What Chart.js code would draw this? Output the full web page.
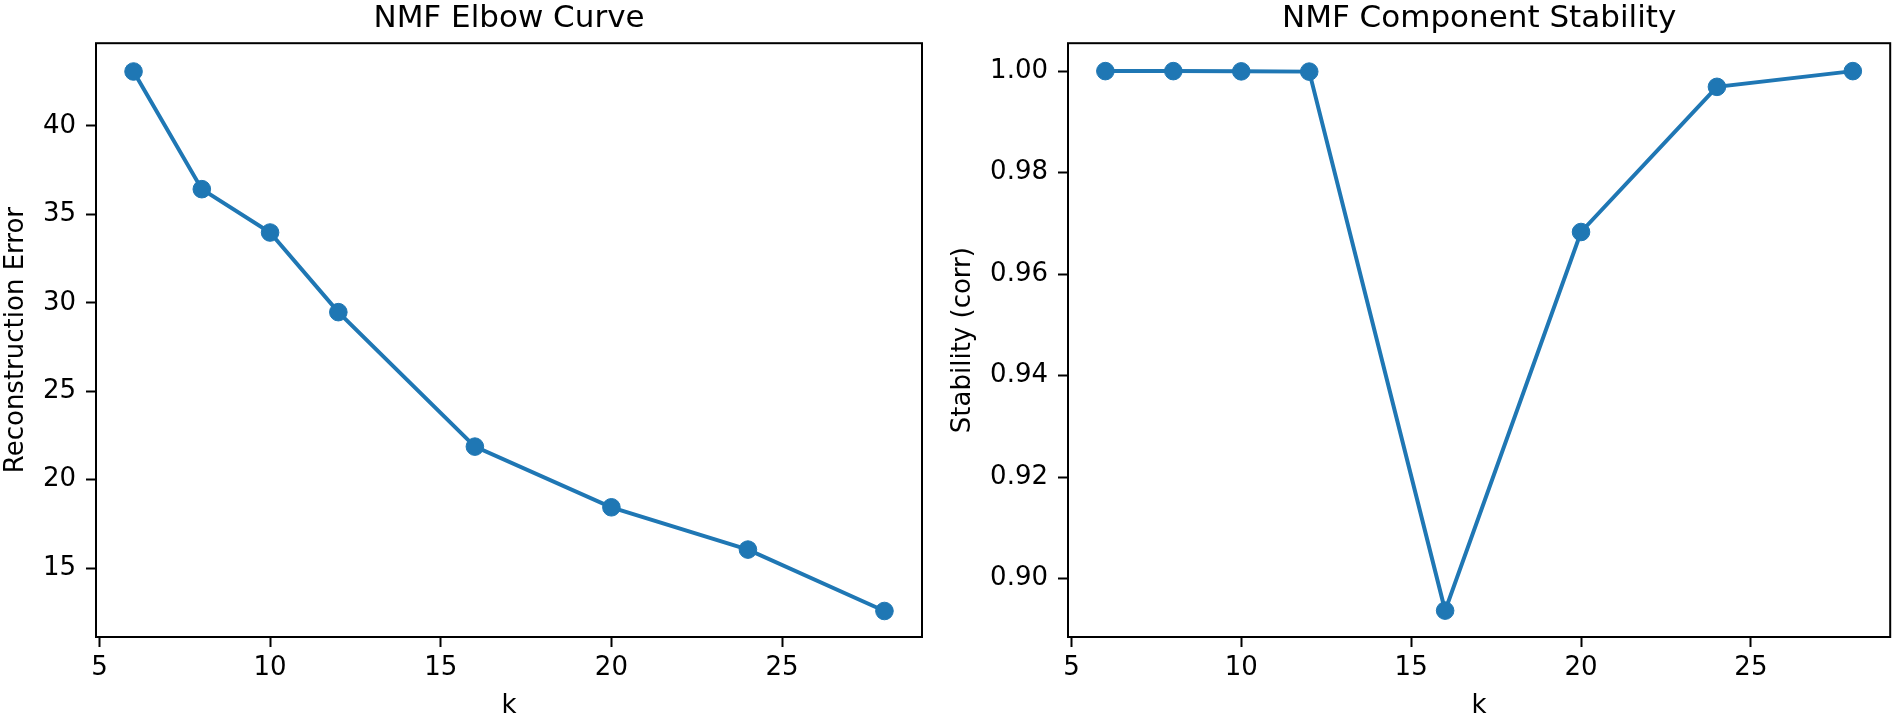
<!DOCTYPE html>
<html>
<head>
<meta charset="utf-8">
<script src="https://cdn.jsdelivr.net/npm/chart.js@4.4.1/dist/chart.umd.min.js"></script>
<style>
  html, body { margin: 0; padding: 0; background: #ffffff; }
  #wrap { position: relative; width: 1900px; height: 719px; overflow: hidden; }
  .box { position: absolute; top: 0; height: 719px; }
  #b1 { left: 0; width: 950px; }
  #b2 { left: 950px; width: 950px; }
</style>
</head>
<body>
<div id="wrap">
  <div class="box" id="b1"><canvas id="c1" width="950" height="719"></canvas></div>
  <div class="box" id="b2"><canvas id="c2" width="950" height="719"></canvas></div>
</div>
<script>
// ---- data ----
const kValues = [6, 8, 10, 12, 16, 20, 24, 28];
const reconstructionError = [43.07, 36.42, 33.97, 29.47, 21.87, 18.44, 16.05, 12.58];
const stability = [1.0000, 1.0000, 0.99995, 0.9999, 0.8937, 0.9683, 0.9969, 1.0000];
const xTicks = [5, 10, 15, 20, 25];
const yTicksError = [15, 20, 25, 30, 35, 40];
const yTicksStability = [0.90, 0.92, 0.94, 0.96, 0.98, 1.00];

const BLUE = '#1f77b4';
const FONT = 'DejaVu Sans';

const framePlugin = {
  id: 'frame',
  afterDraw(chart) {
    const a = chart.chartArea, ctx = chart.ctx;
    ctx.save();
    ctx.strokeStyle = '#000000';
    ctx.lineWidth = 2;
    ctx.strokeRect(a.left, a.top, a.right - a.left, a.bottom - a.top);
    ctx.restore();
  }
};

function makeChart(id, title, yLabel, yVals, yMin, yMax, yTicks, yWidth, padRight, yTitlePad, fmt) {
  const pts = kValues.map((k, i) => ({ x: k, y: yVals[i] }));
  return new Chart(document.getElementById(id), {
    type: 'line',
    data: {
      datasets: [{
        data: pts,
        borderColor: BLUE,
        backgroundColor: BLUE,
        borderWidth: 4,
        pointRadius: 8.8,
        pointHoverRadius: 8.8,
        pointBorderWidth: 1,
        pointBorderColor: BLUE,
        pointBackgroundColor: BLUE,
        tension: 0,
        fill: false,
        clip: false
      }]
    },
    options: {
      responsive: false,
      animation: false,
      devicePixelRatio: 1,
      layout: { padding: { left: 0, right: padRight, top: 0, bottom: 0 } },
      plugins: {
        legend: { display: false },
        tooltip: { enabled: false },
        title: {
          display: true,
          text: title,
          fullSize: false,
          color: '#000000',
          font: { family: FONT, size: 31, weight: 'normal', lineHeight: 1.2 },
          padding: { top: 0, bottom: 6 }
        }
      },
      scales: {
        x: {
          type: 'linear',
          min: 4.9,
          max: 29.1,
          afterBuildTicks: (s) => { s.ticks = xTicks.map(v => ({ value: v })); },
          afterFit: (s) => { s.height = 82; },
          grid: {
            display: true,
            drawOnChartArea: false,
            drawTicks: true,
            tickLength: 10,
            tickWidth: 2,
            tickColor: '#000000'
          },
          border: { display: false },
          ticks: {
            color: '#000000',
            font: { family: FONT, size: 26, lineHeight: 1.2 },
            padding: 6,
            maxRotation: 0,
            autoSkip: false,
            callback: (v) => String(v)
          },
          title: {
            display: true,
            text: 'k',
            color: '#000000',
            font: { family: FONT, size: 26, lineHeight: 1 },
            padding: { top: 0, bottom: 0 }
          }
        },
        y: {
          type: 'linear',
          min: yMin,
          max: yMax,
          afterBuildTicks: (s) => { s.ticks = yTicks.map(v => ({ value: v })); },
          afterFit: (s) => { s.width = yWidth; },
          grid: {
            display: true,
            drawOnChartArea: false,
            drawTicks: true,
            tickLength: 10,
            tickWidth: 2,
            tickColor: '#000000'
          },
          border: { display: false },
          ticks: {
            color: '#000000',
            font: { family: FONT, size: 26, lineHeight: 1.2 },
            padding: 10,
            autoSkip: false,
            callback: fmt
          },
          title: {
            display: true,
            text: yLabel,
            color: '#000000',
            font: { family: FONT, size: 26, lineHeight: 1 },
            padding: { top: yTitlePad, bottom: 0 }
          }
        }
      }
    },
    plugins: [framePlugin]
  });
}

makeChart('c1', 'NMF Elbow Curve', 'Reconstruction Error', reconstructionError,
  11.11, 44.67, yTicksError, 96, 28, 3, (v) => String(v));
makeChart('c2', 'NMF Component Stability', 'Stability (corr)', stability,
  0.8885, 1.0055, yTicksStability, 118, 5, 0, (v) => Number(v).toFixed(2));
</script>
</body>
</html>
